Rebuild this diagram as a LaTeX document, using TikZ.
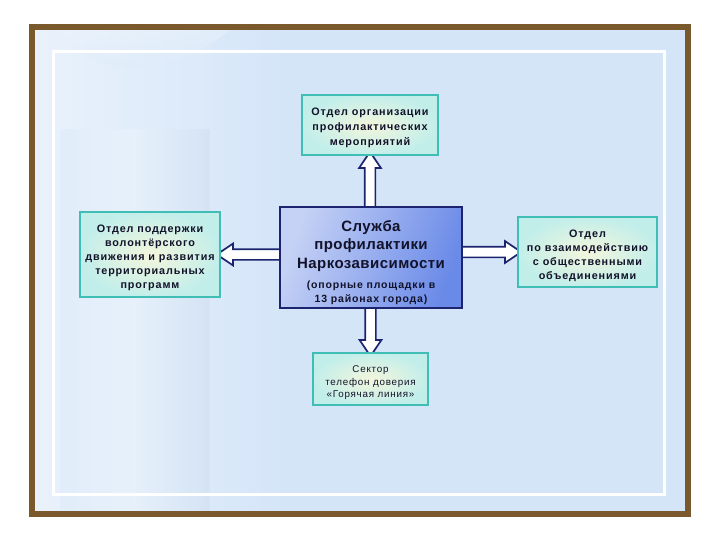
\documentclass[tikz,border=0pt]{standalone}
\usepackage{fontspec}
\setmainfont{Liberation Sans}
\newfontfamily\boxfont[LetterSpace=8]{Liberation Sans}
\newfontfamily\bigfont[LetterSpace=3]{Liberation Sans}
\usetikzlibrary{shapes.arrows,calc}
\pgfdeclarelayer{back}
\pgfdeclarelayer{arrows}
\pgfsetlayers{back,arrows,main}
\definecolor{framebrown}{HTML}{7A5A2C}
\definecolor{bgblue}{HTML}{D4E5F8}
\definecolor{navy}{HTML}{1C2470}
\definecolor{boxedge}{HTML}{40BDB4}
\definecolor{boxin}{HTML}{F3F6DC}
\definecolor{boxout}{HTML}{C2EEEA}
\definecolor{txtcol}{HTML}{12122A}
\definecolor{cenlight}{HTML}{C6D2F5}
\definecolor{cendark}{HTML}{6A8AE8}
\newcommand\bigsty{\bigfont\bfseries\fontsize{15}{18.5}\selectfont}
\newcommand\smallsty{\boxfont\bfseries\fontsize{10.5}{18.5}\selectfont}
% strut that lowers a multi-line node text by half its argument
\newcommand\dn[1]{\rule{0pt}{\dimexpr\fontcharht\font`\T+#1\relax}}
\tikzset{
  unitbox/.style={draw=boxedge, line width=1.6pt, inner color=boxin, outer color=boxout,
    align=center, text=txtcol, inner sep=0pt, font=\boxfont\bfseries\fontsize{10.8}{14}\selectfont},
  centerbox/.style={draw=navy, line width=1.6pt, left color=cenlight, right color=cendark,
    shading angle=70, align=center, text=txtcol, inner sep=0pt, font=\bigsty},
  hollow/.style={single arrow, draw=navy, fill=white, line width=1.7pt, inner xsep=0pt,
    inner ysep=4.5pt, outer sep=0pt, single arrow head extend=5.5pt,
    single arrow tip angle=68, minimum width=0pt},
}
\newcommand\blockarrow[3]{%
  \path let \p1=(#1), \p2=(#2), \n1={veclen(\x2-\x1,\y2-\y1)}, \n2={atan2(\y2-\y1,\x2-\x1)} in
    node[hollow, minimum height=\n1, rotate=\n2] (#3) at ($(\p1)!0.5!(\p2)$) {};}
\begin{document}
\begin{tikzpicture}[x=1pt,y=-1pt]
\useasboundingbox (0,0) rectangle (720,540);
\begin{pgfonlayer}{back}
\fill[white] (0,0) rectangle (720,540);
% background panel
\fill[bgblue] (32,27) rectangle (688,514);
\shade[left color=white!50!bgblue, right color=bgblue] (35,30) rectangle (290,511);
% faint column decoration
\shade[left color=bgblue!85!white, right color=white!65!bgblue, opacity=0.45] (60,130) rectangle (135,511);
\shade[left color=white!65!bgblue, right color=bgblue!95!black, opacity=0.35] (135,130) rectangle (210,511);
\shade[top color=white!60!bgblue, bottom color=bgblue, opacity=0.4] (60,30) .. controls (100,90) and (180,70) .. (230,30) -- cycle;
\draw[framebrown, line width=6pt] (32,27) rectangle (688,514);
\draw[white, line width=3pt] (53.5,51.5) rectangle (664.5,494.5);
\end{pgfonlayer}

% boxes
\node[unitbox, minimum width=136pt, minimum height=60pt] (top) at (370,125)
  {\dn{6pt}Отдел организации\\[1pt]профилактических\\[1pt]мероприятий};
\node[unitbox, minimum width=140pt, minimum height=85pt] (left) at (150,254.5)
  {\dn{6pt}Отдел поддержки\\волонтёрского\\движения и развития\\территориальных\\программ};
\node[centerbox, minimum width=182pt, minimum height=101pt] (center) at (371,257.5)
  {\dn{10pt}Служба\\профилактики\\Наркозависимости\\[1.5pt]
   \smallsty (опорные площадки в\\[-4.5pt]\smallsty 13 районах города)};
\node[unitbox, minimum width=139pt, minimum height=70pt] (right) at (587.5,252)
  {\dn{8pt}Отдел\\по взаимодействию\\с общественными\\объединениями};
\node[unitbox, minimum width=115pt, minimum height=52pt, font=\boxfont\fontsize{9.8}{12.5}\selectfont] (bottom) at (370.5,379)
  {\dn{8pt}Сектор\\телефон доверия\\«Горячая линия»};

% arrows (tails hidden under the central box)
\begin{pgfonlayer}{arrows}
\coordinate (ustart) at ($(center.north -| top.south)+(0,10)$);
\coordinate (dstart) at ($(center.south -| bottom.north)+(0,-10)$);
\coordinate (lstart) at ($(center.west |- left.east)+(10,0)$);
\coordinate (rstart) at ($(center.east |- right.west)+(-10,0)$);
\blockarrow{ustart}{top.south}{aup}
\blockarrow{dstart}{bottom.north}{adown}
\blockarrow{lstart}{left.east}{aleft}
\blockarrow{rstart}{right.west}{aright}
\end{pgfonlayer}
\end{tikzpicture}
\end{document}
